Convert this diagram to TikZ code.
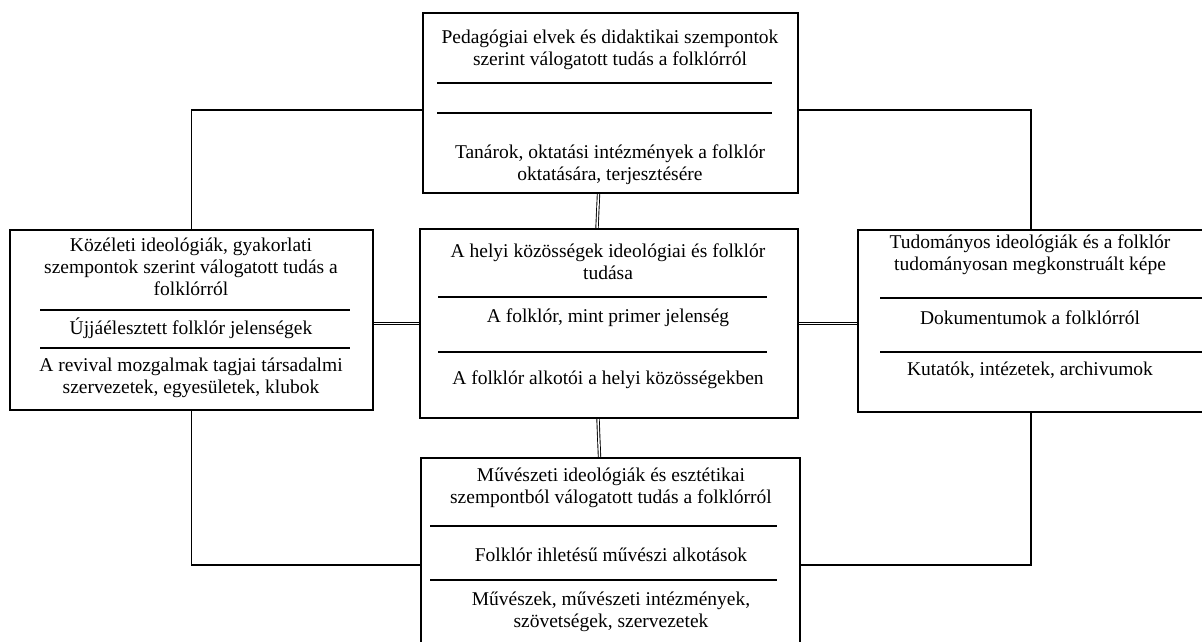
\documentclass[tikz,border=0pt]{standalone}
\usepackage{fontspec}
\setmainfont{Liberation Serif}
\begin{document}
\begin{tikzpicture}[x=1pt,y=-1pt,
	box/.style={draw,line width=2.2pt,inner sep=0pt},
	txt/.style={align=center,inner sep=0pt,font=\fontsize{19.5}{22}\selectfont},
	sep/.style={line width=1.3pt},
	link/.style={line width=1.3pt},
	dlink/.style={double,double distance=1.5pt,line width=0.9pt}]
		\useasboundingbox (0,0) rectangle (1202,642);
		% boxes
		\node[box,minimum width=375pt,minimum height=180pt] (ped) at (610.5,103) {};
		\node[box,minimum width=363pt,minimum height=180pt] (koz) at (191.5,320) {};
		\node[box,minimum width=378pt,minimum height=189pt] (helyi) at (609,323.5) {};
		\node[box,minimum width=346pt,minimum height=182pt] (tud) at (1031,321) {};
		\node[box,minimum width=379pt,minimum height=214pt] (muv) at (610.5,565) {};
		% top
		\node[txt] (peda) at (610,50) {Pedagógiai elvek és didaktikai szempontok\\szerint válogatott tudás a folklórról};
		\draw[sep] (437,83) -- (772,83) (437,113) -- (772,113);
		\node[txt] (pedb) at (610,165) {Tanárok, oktatási intézmények a folklór\\oktatására, terjesztésére};
		% left
		\node[txt] (koza) at (191,267) {Közéleti ideológiák, gyakorlati\\szempontok szerint válogatott tudás a\\folklórról};
		\draw[sep] (40,310) -- (350,310) (40,348) -- (350,348);
		\node[txt] (kozb) at (191,328) {Újjáélesztett folklór jelenségek};
		\node[txt] (kozc) at (191,378) {A revival mozgalmak tagjai társadalmi\\szervezetek, egyesületek, klubok};
		% centre
		\node[txt] (helyia) at (608,262) {A helyi közösségek ideológiai és folklór\\tudása};
		\draw[sep] (438,297) -- (767,297) (438,352) -- (767,352);
		\node[txt] (helyib) at (608,318) {A folklór, mint primer jelenség};
		\node[txt] (helyic) at (608,380) {A folklór alkotói a helyi közösségekben};
		% right
		\node[txt] (tuda) at (1030,255) {Tudományos ideológiák és a folklór\\tudományosan megkonstruált képe};
		\draw[sep] (880,298) -- (1202,298) (880,352) -- (1202,352);
		\node[txt] (tudb) at (1030,318) {Dokumentumok a folklórról};
		\node[txt] (tudc) at (1030,370) {Kutatók, intézetek, archivumok};
		% bottom
		\node[txt] (muva) at (611,487.5) {Művészeti ideológiák és esztétikai\\szempontból válogatott tudás a folklórról};
		\draw[sep] (430,526) -- (777,526) (430,580) -- (777,580);
		\node[txt] (muvb) at (611,555) {Folklór ihletésű művészi alkotások};
		\node[txt] (muvc) at (611,612) {Művészek, művészeti intézmények,\\szövetségek, szervezetek};
		% links
		\draw[dlink] ([xshift=-12pt]ped.south) -- ([xshift=-12pt]helyi.north);
		\draw[dlink] ([xshift=-11pt]helyi.south) -- ([xshift=-11pt]muv.north);
		\draw[dlink] (helyi.west -| koz.east) -- (helyi.west);
		\draw[dlink] (helyi.east) -- (helyi.east -| tud.west);
		\draw[link] (koz.north) |- ([yshift=-7pt]ped.west);
		\draw[link] ([yshift=-7pt]ped.east) -| (tud.north);
		\draw[link] (koz.south) |- (muv.west);
		\draw[link] (tud.south) |- (muv.east);
\end{tikzpicture}
\end{document}
